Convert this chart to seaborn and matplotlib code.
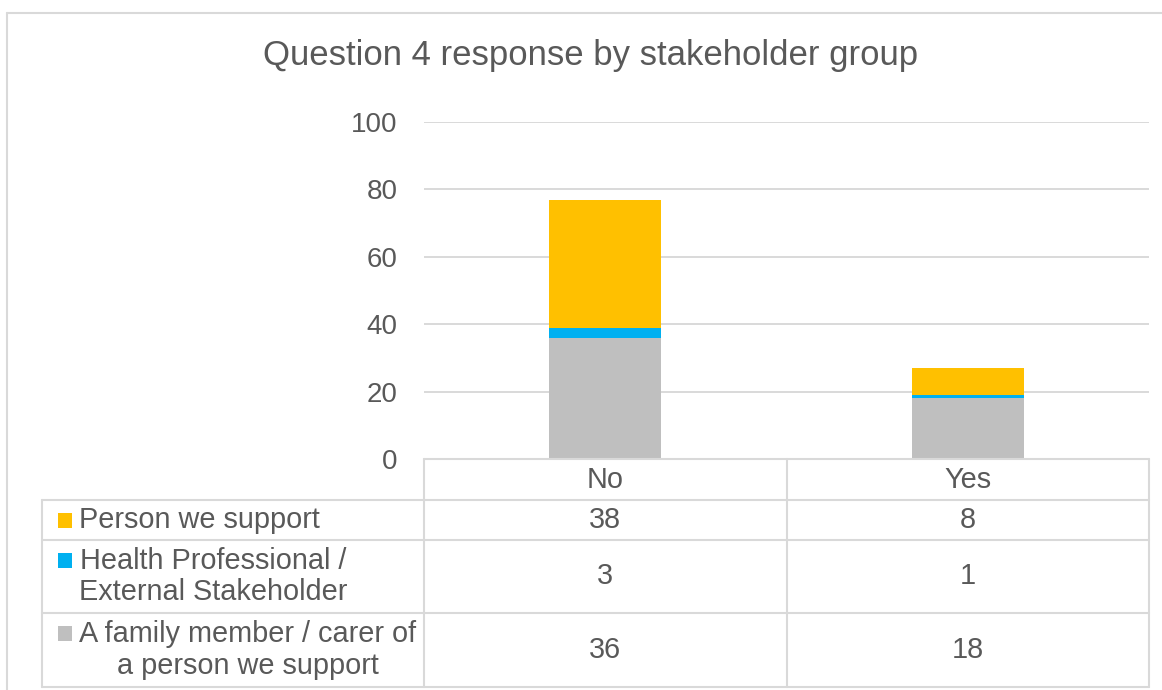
import matplotlib
matplotlib.use("Agg")
import matplotlib.pyplot as plt
import matplotlib.transforms as mtransforms
from matplotlib.lines import Line2D
from matplotlib.patches import Rectangle
import numpy as np
import pandas as pd
import seaborn as sns

# ---------------- data ----------------
title = "Question 4 response by stakeholder group"
categories = ["No", "Yes"]
family_name = "A family member / carer of\na person we support"
health_name = "Health Professional /\nExternal Stakeholder"
person_name = "Person we support"
family_vals = [36, 18]
health_vals = [3, 1]
person_vals = [38, 8]
y_ticks = [0, 20, 40, 60, 80, 100]

# ---------------- style ----------------
YELLOW = "#FFC000"
BLUE = "#00B0F0"
GREY = "#BFBFBF"
TEXT = "#595959"
LINE = "#D9D9D9"

sns.set_theme(style="white")
plt.rcParams["font.family"] = ["Liberation Sans", "DejaVu Sans"]

W, H = 1162, 690
def fx(x):
    return x / W
def fy(y):
    return 1 - y / H

fig = plt.figure(figsize=(W / 100, H / 100), dpi=100)
ax = fig.add_axes([fx(424), fy(459), (1149 - 424) / W, (459 - 122) / H])

# stacked bars (bottom to top: family, health, person)
bottom = np.zeros(len(categories))
for vals, col in [(family_vals, GREY), (health_vals, BLUE), (person_vals, YELLOW)]:
    df = pd.DataFrame({"cat": categories, "val": vals})
    sns.barplot(data=df, x="cat", y="val", bottom=bottom.copy(), color=col,
                saturation=1, width=0.31, errorbar=None, ax=ax, linewidth=0,
                zorder=3)
    bottom = bottom + np.array(vals)

ax.set_xlim(-0.5, len(categories) - 0.5)
ax.set_ylim(0, 100)
ax.set_yticks(y_ticks)
ax.yaxis.grid(True, color=LINE, linewidth=1.4)
ax.xaxis.grid(False)
ax.set_axisbelow(True)
for s in ax.spines.values():
    s.set_visible(False)
ax.set_xlabel("")
ax.set_ylabel("")
ax.set_xticks(range(len(categories)))
ax.set_xticklabels([])
ax.tick_params(axis="x", length=0)
ax.tick_params(axis="y", length=0, pad=19, labelsize=20, labelcolor=TEXT)

# title
fig.text(fx(591), fy(56), title, ha="center", va="center", fontsize=25, color=TEXT)

# chart border (extends beyond canvas)
fig.add_artist(Line2D([fx(7), fx(7)], [fy(13), -0.1], color=LINE, lw=1.5))
fig.add_artist(Line2D([fx(7), 1.1], [fy(13), fy(13)], color=LINE, lw=1.5))

# ---------------- data table ----------------
blend = mtransforms.blended_transform_factory(ax.transData, fig.transFigure)
row_edges = [459, 500, 540, 613, 687]
xl, xr = -0.5, len(categories) - 0.5
FS = 20.8

def hline(y, x0_fig=None):
    if x0_fig is None:
        fig.add_artist(Line2D([xl, xr], [fy(y), fy(y)], transform=blend, color=LINE, lw=1.5))
    else:
        fig.add_artist(Line2D([x0_fig, fx(1149)], [fy(y), fy(y)], color=LINE, lw=1.5))

hline(459)
for y in row_edges[1:]:
    hline(y, fx(42))
# vertical lines
for i in range(len(categories) + 1):
    fig.add_artist(Line2D([xl + i, xl + i], [fy(459), fy(687)], transform=blend, color=LINE, lw=1.5))
fig.add_artist(Line2D([fx(42), fx(42)], [fy(500), fy(687)], color=LINE, lw=1.5))

# header
for i, c in enumerate(categories):
    ax.text(i, fy(480), c, transform=blend, ha="center", va="center", fontsize=FS, color=TEXT)

rows = [(person_name, person_vals, YELLOW), (health_name, health_vals, BLUE), (family_name, family_vals, GREY)]
for r, (name, vals, col) in enumerate(rows):
    top, bot = row_edges[r + 1], row_edges[r + 2]
    yc = (top + bot) / 2
    nlines = name.count("\n") + 1
    fig.text(fx(79), fy(yc), name, ha="left", va="center", multialignment="center",
             fontsize=FS, color=TEXT, linespacing=1.15)
    ysq = yc - (nlines - 1) * 16.5
    fig.add_artist(Rectangle((fx(58), fy(ysq + 7.5)), 14 / W, 15 / H, transform=fig.transFigure,
                             facecolor=col, edgecolor="none"))
    for i, v in enumerate(vals):
        ax.text(i, fy(yc), str(v), transform=blend, ha="center", va="center", fontsize=FS, color=TEXT)

fig.savefig("out.png", dpi=100)
